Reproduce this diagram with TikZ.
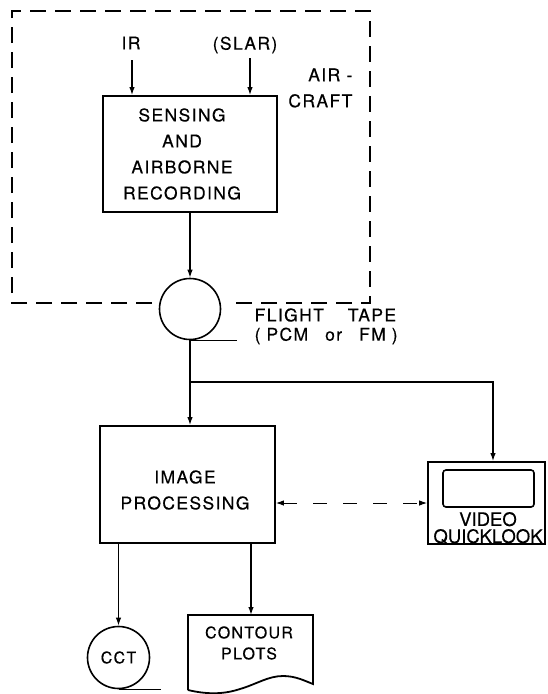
\documentclass[tikz,border=0pt]{standalone}
\usepackage{fontspec}
\setmainfont{TeX Gyre Heros}[LetterSpace=8,FakeBold=0.4]
\newfontfamily\vidfont{TeX Gyre Heros}[FakeBold=0.3]
\usetikzlibrary{arrows.meta,calc}
\begin{document}
\begin{tikzpicture}[x=1pt,y=-1pt,
  line width=1.3pt,
  box/.style={draw,line width=1.8pt,rectangle,inner sep=0pt},
  txt/.style={align=center,inner sep=0pt,font=\fontsize{17.5}{26}\selectfont},
  stxt/.style={align=center,inner sep=0pt,font=\fontsize{16}{21}\selectfont},
  arr/.style={-{Latex[length=8pt,width=5.5pt]}},
  tapec/.style={draw,circle,fill=white,inner sep=0pt,line width=1.6pt},
  dbox/.style={line width=1.2pt,dash pattern=on 16pt off 9pt},
  darr/.style={line width=1pt,dash pattern=on 14pt off 16pt,{Latex[length=8pt,width=5.5pt]}-{Latex[length=8pt,width=5.5pt]}}]
\useasboundingbox (0,0) rectangle (547,694);
% aircraft dashed boundary
\draw[dbox] (152,303) -- (12,303) -- (12,11) -- (370,11) -- (370,303) -- (230,303);
\node[txt,anchor=east,align=right] (aircraft) at (353,88) {AIR -\\CRAFT};
% sensing box
\node[box,minimum width=174pt,minimum height=116pt] (sense) at (190,154) {};
\node[txt] (sensetxt) at (182,154) {SENSING\\AND\\AIRBORNE\\RECORDING};
\node[txt] (ir) at (131,43) {IR};
\node[txt] (slar) at (245,45) {(SLAR)};
\coordinate (irs) at (132,60);
\coordinate (slars) at (250,58);
\draw[arr] (irs) -- (irs |- sense.north);
\draw[arr] (slars) -- (slars |- sense.north);
% flight tape
\node[tapec,minimum size=61pt] (tape) at (190,309) {};
\draw[arr] (sense.south) -- (tape.north);
\draw (tape.south) -- ++(47,0);
\node[txt,anchor=west] (ftape) at (254,315) {FLIGHT\hspace{24pt}TAPE};
\node[txt,anchor=west] (pcm) at (254,336) {(\hspace{6pt}PCM\hspace{17pt}or\hspace{17pt}FM\hspace{6pt})};
% image processing
\node[box,minimum width=175pt,minimum height=117pt] (improc) at (187.5,484.5) {};
\node[txt] (improctxt) at (185,490) {IMAGE\\PROCESSING};
\draw[arr] (tape.south) -- (tape.south |- improc.north);
% video quicklook
\node[box,minimum width=117pt,minimum height=82pt] (video) at (486.5,503) {};
\node[draw,rounded corners=3pt,line width=1.6pt,minimum width=91pt,minimum height=37pt,inner sep=0pt] (screen) at (488.5,488.5) {};
\node[inner sep=0pt,align=center,font=\vidfont\fontsize{18.5}{17}\selectfont] (vidtxt) at (488,528) {VIDEO\\QUICKLOOK};
\coordinate (br) at (190,382);
\coordinate (vin) at (493,400);
\draw[arr] (br) -| (vin |- video.north);
\draw[darr] (improc.east |- video.west) -- (video.west);
% outputs
\node[tapec,minimum size=62pt] (cct) at (118.5,657.5) {};
\node[stxt] (cctxt) at (cct) {CCT};
\draw[arr] (cct.north |- improc.south) -- (cct.north);
\draw (cct.south) -- ++(42,0);
\draw[line width=1.8pt] (188,690) -- (188,615) -- (313,615) -- (313,684)
  .. controls (305,681) and (296,676) .. (283,676)
  .. controls (268,676) and (257,684) .. (240,689)
  .. controls (222,695) and (205,694) .. (188,690);
\node[stxt] (contour) at (249,643) {CONTOUR\\PLOTS};
\coordinate (ctop) at (251,615);
\draw[arr] (ctop |- improc.south) -- (ctop);
\end{tikzpicture}
\end{document}
